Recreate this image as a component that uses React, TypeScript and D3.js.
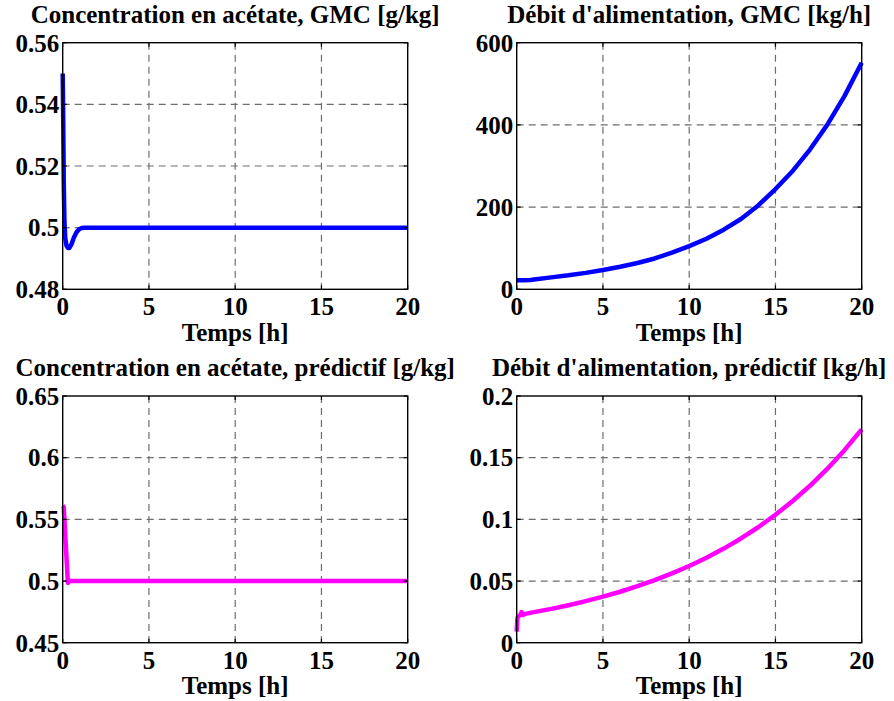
import React from "react";
import * as d3 from "d3";

// ---- data ----
const timeTicks = [0, 5, 10, 15, 20];

const acetateGmcTime = [0, 0.03, 0.06, 0.1, 0.15, 0.22, 0.3, 0.38, 0.5, 0.65, 0.8, 0.95, 1.1, 1.3, 2, 5, 10, 15, 20];
const acetateGmcValues = [0.55, 0.535, 0.515, 0.502, 0.4965, 0.4942, 0.4934, 0.4934, 0.4945, 0.4968, 0.4985, 0.4995, 0.4999, 0.5, 0.5, 0.5, 0.5, 0.5, 0.5];
const acetateGmcTicks = [0.48, 0.5, 0.52, 0.54, 0.56];

const feedGmcTime = [0, 0.4, 0.8, 1, 2, 3, 4, 5, 6, 7, 8, 9, 10, 11, 12, 13, 14, 15, 16, 17, 18, 19, 20];
const feedGmcValues = [22, 22, 22.5, 24, 29, 34, 40, 47, 55, 64, 75, 89, 105, 123, 145, 171, 204, 244, 288, 340, 400, 470, 551];
const feedGmcTicks = [0, 200, 400, 600];

const acetatePredTime = [0, 0.06, 0.3, 0.4, 5, 10, 15, 20];
const acetatePredValues = [0.561, 0.56, 0.4985, 0.5, 0.5, 0.5, 0.5, 0.5];
const acetatePredTicks = [0.45, 0.5, 0.55, 0.6, 0.65];

const feedPredTime = [0, 0.04, 0.1, 0.2, 0.28, 0.36, 0.5, 1, 2, 3, 4, 5, 6, 7, 8, 9, 10, 11, 12, 13, 14, 15, 16, 17, 18, 19, 20];
const feedPredValues = [0.009, 0.02, 0.0215, 0.0222, 0.0248, 0.0226, 0.0234, 0.0248, 0.0274, 0.0304, 0.0337, 0.0373, 0.0413, 0.0458, 0.0507, 0.0562, 0.0622, 0.0689, 0.0763, 0.0845, 0.0936, 0.1037, 0.1149, 0.1272, 0.1409, 0.1561, 0.1729];
const feedPredTicks = [0, 0.05, 0.1, 0.15, 0.2];

const titles = [
  "Concentration en acétate, GMC [g/kg]",
  "Débit d'alimentation, GMC [kg/h]",
  "Concentration en acétate, prédictif [g/kg]",
  "Débit d'alimentation, prédictif [kg/h]",
];
const xLabel = "Temps [h]";
const colors = ["#0000ff", "#0000ff", "#ff00ff", "#ff00ff"];

// ---- layout ----
const W = 894;
const H = 701;
const colX = [[62.7, 407.7], [516.7, 861.7]];
const rowY = [[42.7, 289.3], [396, 642.7]];
const FONT = "'Liberation Serif', 'Times New Roman', Times, serif";

type PanelCfg = {
  title: string;
  t: number[];
  v: number[];
  ticks: number[];
  color: string;
  col: number;
  row: number;
};

const panels: PanelCfg[] = [
  { title: titles[0], t: acetateGmcTime, v: acetateGmcValues, ticks: acetateGmcTicks, color: colors[0], col: 0, row: 0 },
  { title: titles[1], t: feedGmcTime, v: feedGmcValues, ticks: feedGmcTicks, color: colors[1], col: 1, row: 0 },
  { title: titles[2], t: acetatePredTime, v: acetatePredValues, ticks: acetatePredTicks, color: colors[2], col: 0, row: 1 },
  { title: titles[3], t: feedPredTime, v: feedPredValues, ticks: feedPredTicks, color: colors[3], col: 1, row: 1 },
];

const fmt = (v: number) => String(+v.toPrecision(6));

function Panel({ p }: { p: PanelCfg }) {
  const [x0, x1] = colX[p.col];
  const [y0, y1] = rowY[p.row];
  const x = d3.scaleLinear().domain([timeTicks[0], timeTicks[timeTicks.length - 1]]).range([x0, x1]);
  const y = d3.scaleLinear().domain([p.ticks[0], p.ticks[p.ticks.length - 1]]).range([y1, y0]);
  const pts = p.t.map((t, i) => [t, p.v[i]] as [number, number]);
  const line = d3.line<[number, number]>().x((d) => x(d[0])).y((d) => y(d[1]));
  const cx = (x0 + x1) / 2;
  const tickLen = 4;
  return (
    <g>
      {/* grid */}
      {timeTicks.slice(1, -1).map((t) => (
        <line key={"gx" + t} x1={x(t)} x2={x(t)} y1={y0} y2={y1} stroke="#6e6e6e" strokeWidth={1.2} strokeDasharray="7,5" />
      ))}
      {p.ticks.slice(1, -1).map((v) => (
        <line key={"gy" + v} x1={x0} x2={x1} y1={y(v)} y2={y(v)} stroke="#6e6e6e" strokeWidth={1.2} strokeDasharray="7,5" />
      ))}
      {/* data */}
      <path d={line(pts) || ""} fill="none" stroke={p.color} strokeWidth={4.5} strokeLinejoin="round" />
      {/* ticks */}
      {timeTicks.map((t) => (
        <g key={"tx" + t}>
          <line x1={x(t)} x2={x(t)} y1={y1} y2={y1 - tickLen} stroke="#000" strokeWidth={1.2} />
          <line x1={x(t)} x2={x(t)} y1={y0} y2={y0 + tickLen} stroke="#000" strokeWidth={1.2} />
        </g>
      ))}
      {p.ticks.map((v) => (
        <g key={"ty" + v}>
          <line x1={x0} x2={x0 + tickLen} y1={y(v)} y2={y(v)} stroke="#000" strokeWidth={1.2} />
          <line x1={x1} x2={x1 - tickLen} y1={y(v)} y2={y(v)} stroke="#000" strokeWidth={1.2} />
        </g>
      ))}
      {/* box */}
      <rect x={x0} y={y0} width={x1 - x0} height={y1 - y0} fill="none" stroke="#000" strokeWidth={1.4} />
      {/* tick labels */}
      {timeTicks.map((t) => (
        <text key={"lx" + t} x={x(t)} y={y1 + 26} textAnchor="middle" fontSize={25} fontWeight="bold" fontFamily={FONT}>
          {fmt(t)}
        </text>
      ))}
      {p.ticks.map((v) => (
        <text key={"ly" + v} x={x0 - 3.5} y={y(v) + 8.8} textAnchor="end" fontSize={25} fontWeight="bold" fontFamily={FONT}>
          {fmt(v)}
        </text>
      ))}
      {/* x label */}
      <text x={cx} y={y1 + 51.5} textAnchor="middle" fontSize={25} fontWeight="bold" fontFamily={FONT}>
        {xLabel}
      </text>
      {/* title */}
      <text x={cx} y={y0 - 20} textAnchor="middle" fontSize={25} fontWeight="bold" fontFamily={FONT}>
        {p.title}
      </text>
    </g>
  );
}

export default function App() {
  return (
    <svg width={W} height={H} style={{ position: "absolute", left: 0, top: 0, background: "#fff" }}>
      <rect x={0} y={0} width={W} height={H} fill="#fff" />
      {panels.map((p, i) => (
        <Panel key={i} p={p} />
      ))}
    </svg>
  );
}
